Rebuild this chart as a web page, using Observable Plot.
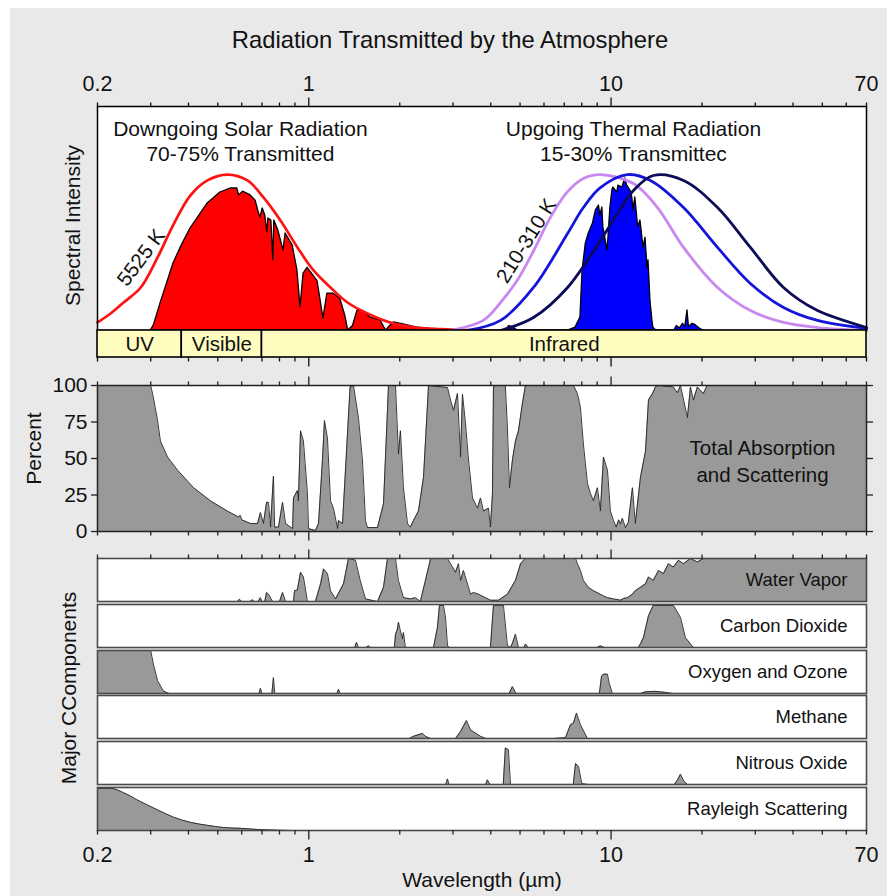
<!DOCTYPE html>
<html><head><meta charset="utf-8">
<script src="https://cdn.jsdelivr.net/npm/d3@7"></script>
<script src="https://cdn.jsdelivr.net/npm/@observablehq/plot@0.6"></script>
<style>
body{margin:0;background:#fff;font-family:"Liberation Sans",Arial,sans-serif;}
#root{position:relative;width:894px;height:896px;overflow:hidden;}
#bg{position:absolute;left:10px;top:8px;width:877px;height:888px;background:#e9e9e9;}
#title{position:absolute;left:0;width:900px;top:26px;line-height:28px;text-align:center;font-size:23.8px;color:#111;}
#major{position:absolute;left:69px;top:688px;transform:translate(-50%,-50%) rotate(-90deg);white-space:nowrap;font-size:21px;color:#111;}
</style></head>
<body><div id="root"><div id="bg"></div><div id="title">Radiation Transmitted by the Atmosphere</div><div id="major">Major CComponents</div></div>
<script>
// ---------- data (wavelength in µm, value in % of panel height) ----------
const tickLabels = [0.2, 1, 10, 70];
const minorTicks = [0.2,0.3,0.4,0.5,0.6,0.7,0.8,0.9,2,3,4,5,6,7,8,9,20,30,40,50,60,70];
const majorTicks = [1, 10];
const percentTicks = [0, 25, 50, 75, 100];
const bandNames = ["UV", "Visible", "Infrared"];
const bandStarts = [0.2, 0.38, 0.7];
const bandEnds = [0.38, 0.7, 70];

const solarBlackbody = [[0.2,3.6],[0.221,7.6],[0.244,12.5],[0.278,19.2],[0.316,32.6],[0.354,46.4],[0.406,60.3],[0.462,67],[0.538,69.6],[0.627,67],[0.708,59.4],[0.806,49.1],[0.917,37.1],[1.037,26.8],[1.18,19.2],[1.343,12.5],[1.564,7.6],[1.86,3.6],[2.28,1.3],[2.73,0.6],[3.3,0.2],[4.5,0]];
const solarTransmitted = [[0.300,0],[0.307,2.2],[0.323,12],[0.357,30],[0.38,38],[0.406,45.5],[0.463,56.7],[0.510,61.6],[0.551,63.4],[0.580,63.4],[0.588,60.3],[0.606,62],[0.642,60.3],[0.667,58],[0.680,53.6],[0.692,50.4],[0.704,54.5],[0.718,51.3],[0.729,43.8],[0.735,50],[0.752,49.1],[0.763,31.3],[0.769,49.1],[0.793,44.6],[0.825,35.7],[0.838,43.3],[0.885,37.9],[0.917,26.8],[0.939,10.3],[0.961,25.4],[0.991,28],[1.069,22],[1.118,5.4],[1.152,16.5],[1.205,16.5],[1.27,14.3],[1.32,6.7],[1.35,0],[1.40,2],[1.449,8.9],[1.50,8.9],[1.60,5.8],[1.727,4.5],[1.80,0],[1.86,2],[1.91,3.6],[2.06,2.7],[2.28,1.3],[2.47,0.9],[2.6,0]];
const thermalCool = [[2.94,0],[3.78,4.5],[4.31,12.5],[4.90,22.5],[5.54,35.5],[6.30,50.5],[7.18,62],[8.10,67.9],[9.22,69.6],[11.86,65.6],[14.24,54.9],[17.37,37.1],[22.5,19.2],[28.9,8.9],[37.2,3.6],[48.2,1.3],[70,0]];
const thermalMid = [[3.35,0],[4.31,4.5],[5.54,19.2],[7.18,43.3],[8.10,54.9],[9.22,63.8],[11.33,69.6],[13.5,67],[17.37,54.9],[22.5,37.1],[28.9,21],[37.2,10.3],[48.2,4.5],[70,0.9]];
const thermalWarm = [[4.31,0],[5.54,5.8],[7.18,19.2],[9.22,40.2],[10.5,52.2],[11.86,62.5],[13.8,69.2],[17.37,67],[22.5,54.9],[28.9,37.1],[37.2,19.2],[48.2,8.9],[70,1.3]];
const thermalTransmitted = [[4.3,0],[4.5,0],[4.6,2],[4.75,1.5],[4.9,0],[7.2,0],[7.63,1.3],[7.92,5.8],[8.05,26.8],[8.25,38.8],[8.44,43.3],[8.71,47.8],[8.91,53.6],[9.12,55.8],[9.22,51.3],[9.36,54.9],[9.43,46],[9.57,41.5],[9.72,35.7],[9.79,40.2],[9.95,54.9],[10.1,62.5],[10.18,63.8],[10.49,61.6],[10.57,64.7],[10.9,63.8],[11.14,67.9],[11.31,64.7],[11.59,62.5],[11.76,59.4],[11.85,53.6],[12.03,59.4],[12.3,46],[12.51,49.1],[12.8,37.1],[13.0,41.5],[13.2,28.1],[13.3,31.3],[13.5,13.4],[13.7,4.5],[13.8,1.3],[14.1,0],[16.2,0],[16.5,2],[16.9,1],[17.3,3],[17.6,1.5],[17.9,9],[18.1,1.5],[18.6,3],[19.0,2.5],[19.6,1],[20.2,0]];

const totalAbsorption = [[0.2,100],[0.3,100],[0.306,92],[0.316,76],[0.323,62],[0.341,51],[0.368,42],[0.416,30],[0.473,21],[0.538,14],[0.585,10],[0.594,11],[0.60,8],[0.642,5.5],[0.677,5.5],[0.692,13],[0.708,5.5],[0.725,20],[0.736,20],[0.747,3],[0.764,38],[0.771,3],[0.794,3],[0.819,20],[0.838,5.5],[0.884,2],[0.890,23],[0.917,28],[0.924,21],[0.939,69],[0.960,62],[0.990,26],[0.998,2],[1.052,0.7],[1.077,5.5],[1.110,49],[1.127,76],[1.153,64],[1.180,21],[1.207,16],[1.245,2],[1.254,7.5],[1.293,5.5],[1.343,67],[1.37,99],[1.406,100],[1.460,78],[1.505,49],[1.540,7.5],[1.564,2.7],[1.688,2.7],[1.767,19],[1.821,83],[1.835,100],[1.936,100],[1.980,53],[2.010,69],[2.057,30],[2.121,5.5],[2.170,3],[2.220,7.5],[2.306,14],[2.396,37],[2.490,100],[2.877,98.6],[2.944,90],[3.012,83],[3.105,94.5],[3.177,51],[3.225,94],[3.300,74],[3.377,49],[3.481,23],[3.615,16],[3.699,23],[3.784,14],[3.931,16],[3.990,3],[4.052,26],[4.083,99],[4.146,100],[4.470,100],[4.542,71],[4.612,30],[4.718,49],[4.828,62],[4.940,69],[5.093,88],[5.21,100],[7.51,100],[7.74,94.5],[7.92,85],[8.10,60],[8.355,33],[8.55,26],[8.746,21],[9.017,30],[9.22,14],[9.439,51],[9.731,42],[9.95,14],[10.19,7.5],[10.4,3],[10.6,8],[10.74,5],[10.9,9],[11.16,2.7],[11.4,6],[11.77,30],[12.03,5.5],[12.51,37],[13.0,55],[13.3,90],[13.71,94.5],[14.03,99],[14.24,100],[16.08,99],[16.58,95],[16.97,100],[17.89,78],[18.31,99],[18.73,90],[19.31,99],[20.2,94.5],[20.8,100],[70,100]];

const waterVapor = [[0.2,0],[0.58,0],[0.59,5],[0.60,0],[0.64,0],[0.651,4],[0.66,0],[0.68,0],[0.692,9],[0.70,0],[0.715,0],[0.725,21],[0.736,17],[0.759,0],[0.80,0],[0.819,21],[0.838,0],[0.890,0],[0.897,25],[0.917,27],[0.939,68],[0.960,57],[0.990,0],[1.052,0],[1.094,41],[1.119,76],[1.153,65],[1.180,25],[1.226,6],[1.303,41],[1.353,100],[1.427,96],[1.48,49],[1.54,6],[1.688,0],[1.767,33],[1.821,100],[1.936,100],[1.98,49],[2.057,9],[2.17,6],[2.254,9],[2.34,0],[2.432,49],[2.53,100],[2.877,100],[2.944,88],[3.058,68],[3.128,88],[3.177,49],[3.249,72],[3.43,17],[3.507,21],[3.642,17],[3.842,9],[3.99,3],[4.242,3],[4.542,17],[4.828,49],[5.02,88],[5.21,100],[7.63,100],[7.74,88],[7.92,72],[8.10,49],[8.418,33],[8.746,25],[9.22,17],[9.5,12],[9.731,9],[10.19,6],[10.74,3],[11.0,7],[11.33,9],[11.77,17],[12.03,25],[12.51,33],[13.0,41],[13.3,57],[13.8,49],[14.35,72],[14.91,65],[15.48,88],[16.08,80],[16.71,96],[17.37,88],[18.31,100],[19.31,92],[20.2,100],[70,100]];
const carbonDioxide = [[0.2,0],[1.42,0],[1.438,12],[1.46,0],[1.55,0],[1.576,4],[1.6,0],[1.92,0],[1.936,31],[1.96,40],[1.98,59],[2.01,39],[2.042,20],[2.057,35],[2.088,0],[2.586,0],[2.665,47],[2.706,98],[2.790,98],[2.834,70],[2.877,4],[2.92,0],[3.99,0],[4.083,98],[4.406,98],[4.542,4],[4.65,0],[4.718,10],[4.828,31],[4.94,0],[5.15,0],[5.21,8],[5.33,0],[9.0,0],[9.22,4],[9.5,0],[12.3,0],[12.51,8],[12.8,23],[13.3,74],[13.8,98],[16.08,98],[16.97,70],[17.62,23],[18.73,0],[70,0]];
const oxygenOzone = [[0.2,100],[0.3,100],[0.306,69],[0.316,30],[0.33,6],[0.345,0],[0.685,0],[0.692,12],[0.70,0],[0.755,0],[0.764,37],[0.772,0],[1.24,0],[1.254,10],[1.27,0],[4.6,0],[4.718,16],[4.85,0],[9.15,0],[9.3,40],[9.44,45],[9.73,45],[9.85,25],[10.1,0],[12.5,0],[13.0,4],[14.0,5],[15.0,3],[16.0,0],[70,0]];
const methane = [[0.2,0],[2.15,0],[2.22,5],[2.378,12],[2.432,5],[2.53,0],[3.058,0],[3.177,16],[3.324,42],[3.43,20],[3.7,5],[3.85,0],[6.45,0],[7.07,2],[7.34,32],[7.51,36],[7.684,59],[7.92,32],[8.355,0],[70,0]];
const nitrousOxide = [[0.2,0],[2.84,0],[2.877,13],[2.91,0],[3.85,0],[3.90,11],[3.95,3],[4.0,0],[4.4,0],[4.47,85],[4.575,81],[4.65,0],[7.5,0],[7.63,49],[7.81,41],[8.0,2],[8.2,1],[8.4,0],[16.2,0],[16.58,10],[16.97,24],[17.4,8],[17.9,0],[70,0]];
const rayleigh = [[0.2,98],[0.221,98],[0.244,88],[0.278,67],[0.316,48],[0.357,31],[0.406,19],[0.462,12],[0.522,7],[0.594,5],[0.677,2.4],[0.764,1],[0.87,0],[70,0]];
const componentNames = ["Water Vapor","Carbon Dioxide","Oxygen and Ozone","Methane","Nitrous Oxide","Rayleigh Scattering"];
const componentSeries = [waterVapor, carbonDioxide, oxygenOzone, methane, nitrousOxide, rayleigh];

// ---------- helpers ----------
const root = document.getElementById("root");
const FONT = "Liberation Sans, Arial, sans-serif";
const X = d => d[0], Y = d => d[1];
const bands = bandNames.map((name, i) => ({name, start: bandStarts[i], end: bandEnds[i]}));
function base(height, marginTop, marginBottom) {
  return {
    width: 894, height, marginTop, marginBottom, marginLeft: 97, marginRight: 28,
    x: {type: "log", domain: [0.2, 70]},
    style: {background: "transparent", overflow: "visible", fontFamily: FONT, fontSize: "21px", color: "#111"}
  };
}
function xTicks(anchor, stroke = "#111") {
  return [
    Plot.axisX(minorTicks, {anchor, tickSize: 4.5, tickFormat: () => "", label: null, stroke, strokeWidth: 1.3}),
    Plot.axisX(majorTicks, {anchor, tickSize: 9.5, tickFormat: () => "", label: null, stroke, strokeWidth: 1.3})
  ];
}
function place(svg, top) {
  const d = document.createElement("div");
  d.style.position = "absolute"; d.style.left = "0px"; d.style.top = top + "px";
  d.appendChild(svg); root.appendChild(d);
}

// ---------- Panel 1: spectral intensity ----------
place(Plot.plot({
  ...base(270, 46, 0),
  y: {domain: [0, 100], axis: null},
  marks: [
    Plot.frame({fill: "white"}),
    ...xTicks("top"),
    Plot.text(tickLabels, {x: d => d, text: d => String(d), frameAnchor: "top", lineAnchor: "middle", dy: -22, fontSize: 21.5}),
    Plot.areaY(solarTransmitted, {x: X, y: Y, fill: "#ff0000", stroke: "#000", strokeWidth: 1.3}),
    Plot.areaY(thermalTransmitted, {x: X, y: Y, fill: "#0000ff", stroke: "#000", strokeWidth: 1.3}),
    Plot.line(solarBlackbody, {x: X, y: Y, stroke: "#ff1212", strokeWidth: 2.7, curve: "catmull-rom"}),
    Plot.line(thermalCool, {x: X, y: Y, stroke: "#c888f0", strokeWidth: 2.8, curve: "catmull-rom"}),
    Plot.line(thermalMid, {x: X, y: Y, stroke: "#1414dc", strokeWidth: 2.8, curve: "catmull-rom"}),
    Plot.line(thermalWarm, {x: X, y: Y, stroke: "#0c0c58", strokeWidth: 2.8, curve: "catmull-rom"}),
    Plot.text(["Downgoing Solar Radiation\n70-75% Transmitted"], {x: 0.594, y: 85, text: d => d, fontSize: 21, lineHeight: 1.19}),
    Plot.text(["Upgoing Thermal Radiation\n15-30% Transmittec"], {x: 11.86, y: 85, text: d => d, fontSize: 21, lineHeight: 1.19}),
    Plot.text(["5525 K"], {x: 0.279, y: 32.5, text: d => d, rotate: -53, fontSize: 20.5}),
    Plot.text(["210-310 K"], {x: 5.25, y: 40, text: d => d, rotate: -58, fontSize: 20.5}),
    Plot.text(["Spectral Intensity"], {frameAnchor: "left", textAnchor: "middle", lineAnchor: "middle", dx: -24, dy: 7, rotate: -90, text: d => d, fontSize: 21}),
    Plot.frame({stroke: "#000", strokeWidth: 1.5})
  ]
}), 60);

// ---------- band strip ----------
place(Plot.plot({
  ...base(40, 0, 13),
  marks: [
    Plot.rect(bands, {x1: "start", x2: "end", fill: "#fffcc0", stroke: "#000", strokeWidth: 1.6}),
    Plot.text(bands, {x: d => Math.sqrt(d.start * d.end), text: "name", fontSize: 20.5}),
    ...xTicks("bottom")
  ]
}), 330);

// ---------- Panel 2: total absorption ----------
place(Plot.plot({
  ...base(175, 15, 14),
  y: {domain: [0, 100]},
  marks: [
    Plot.frame({fill: "white"}),
    Plot.areaY(totalAbsorption, {x: X, y: Y, fill: "#999999"}),
    Plot.lineY(totalAbsorption, {x: X, y: Y, stroke: "#222", strokeWidth: 0.9}),
    ...xTicks("top", "#222"),
    ...xTicks("bottom", "#222"),
    Plot.axisY(percentTicks, {anchor: "left", tickSize: 6, tickPadding: 4, fontSize: 21, label: null, stroke: "#222", strokeWidth: 1.3}),
    Plot.axisY(percentTicks, {anchor: "right", tickSize: 6, tickFormat: () => "", label: null, stroke: "#222", strokeWidth: 1.3}),
    Plot.text(["Total Absorption\nand Scattering"], {x: 31.7, y: 49, text: d => d, fontSize: 20.5, lineHeight: 1.3}),
    Plot.text(["Percent"], {frameAnchor: "left", textAnchor: "middle", lineAnchor: "middle", dx: -63, dy: -10, rotate: -90, text: d => d, fontSize: 21}),
    Plot.frame({stroke: "#222", strokeWidth: 1.5})
  ]
}), 370);

// ---------- Panel 3: major components ----------
componentNames.forEach((name, i) => {
  const frameTop = 558 + i * 45.8;
  const first = i === 0, last = i === componentNames.length - 1;
  const mt = first ? 14 : 0, mb = last ? 66 : 0;
  const opts = base(43 + mt + mb, mt, mb);
  if (!first && !last) opts.x = {...opts.x, axis: null};
  const data = componentSeries[i];
  const curve = last ? "monotone-x" : "linear";
  const marks = [
    Plot.frame({fill: "white"}),
    Plot.areaY(data, {x: X, y: Y, fill: "#999999", curve}),
    Plot.lineY(data, {x: X, y: Y, stroke: "#222", strokeWidth: 0.9, curve}),
    Plot.text([name], {frameAnchor: "right", dx: -19, textAnchor: "end", text: d => d, fontSize: 18.5}),
    Plot.frame({stroke: "#4a4a4a", strokeWidth: 1.6})
  ];
  if (first) marks.push(...xTicks("top", "#222"));
  if (last) {
    marks.push(...xTicks("bottom", "#222"));
    marks.push(Plot.text(tickLabels, {x: d => d, text: d => String(d), frameAnchor: "bottom", lineAnchor: "middle", dy: 25, fontSize: 21.5}));
    marks.push(Plot.text(["Wavelength (µm)"], {frameAnchor: "bottom", lineAnchor: "middle", dy: 50, text: d => d, fontSize: 21}));
  }
  place(Plot.plot({...opts, y: {domain: [0, 100], axis: null}, marks}), frameTop - mt);
});
</script>
</body></html>
